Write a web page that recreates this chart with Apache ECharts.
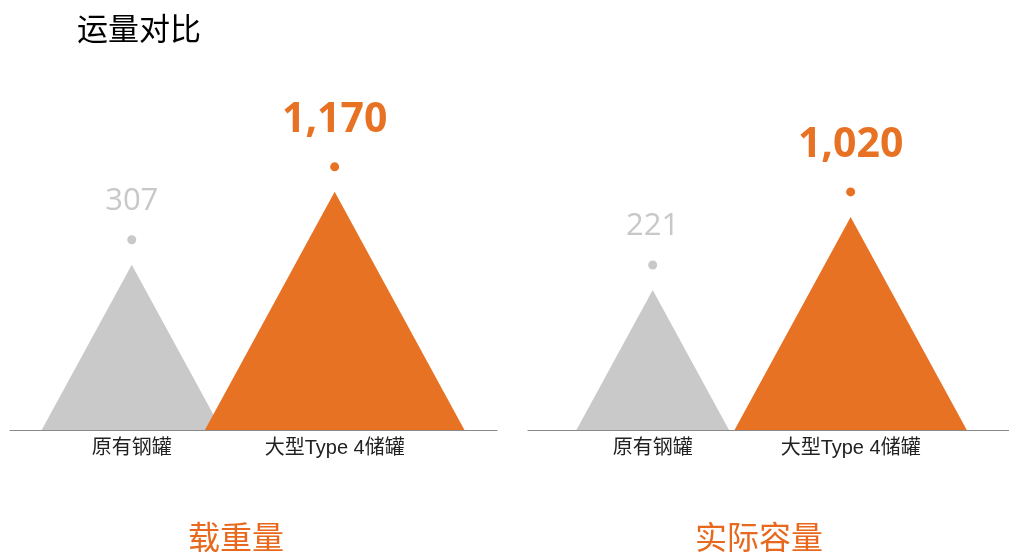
<!DOCTYPE html>
<html>
<head>
<meta charset="utf-8">
<script src="https://cdn.jsdelivr.net/npm/echarts@6/dist/echarts.min.js"></script>
<style>
  html, body { margin: 0; padding: 0; background: #fff; }
  #chart { width: 1009px; height: 552px; }
</style>
</head>
<body>
<div id="chart"></div>
<script>
const categories = ['原有钢罐', '大型Type 4储罐']
const loadValues = [307, 1170]       // 载重量
const capacityValues = [221, 1020]   // 实际容量
const panelTitles = ['载重量', '实际容量']

const fills = ['#C8C9C8', '#E87224']
const labelColors = ['#C8C8C8', '#E87224']

const chart = echarts.init(document.getElementById('chart'))

// triangle from the baseline up to the value, dot and value label above the tip
const renderPeak = (params, api) => {
    const i = api.value(0)
    const val = api.value(1)
    const tip = api.coord([i, val])
    const cs = params.coordSys
    const baseY = cs.y + cs.height
    const half = (baseY - tip[1]) * 0.545
    const big = i === 1
    const dotY = tip[1] - 25
    return {
        type: 'group',
        children: [
            {
                type: 'polygon',
                shape: { points: [[tip[0] - half, baseY], [tip[0], tip[1]], [tip[0] + half, baseY]] },
                style: { fill: fills[i] }
            },
            {
                type: 'circle',
                shape: { cx: tip[0], cy: dotY, r: 4.5 },
                style: { fill: fills[i] }
            },
            {
                type: 'text',
                style: {
                    text: val.toLocaleString('en-US'),
                    x: tip[0],
                    y: dotY - (big ? 47 : 39),
                    align: 'center',
                    verticalAlign: 'middle',
                    fontSize: big ? 41 : 31,
                    fontWeight: big ? 'bold' : 'normal',
                    fontFamily: 'Open Sans',
                    fill: labelColors[i]
                }
            }
        ]
    }
}

const makeX = gridIndex => ({
    gridIndex,
    type: 'value',
    min: -0.6,
    max: 1.8,
    splitLine: { show: false },
    axisTick: { show: false },
    axisLine: { show: true, onZero: false, lineStyle: { color: '#8a8a8a', width: 1.2 } },
    axisLabel: {
        customValues: [0, 1],
        formatter: v => categories[v] || '',
        color: '#222',
        fontSize: 20,
        margin: 8,
        fontFamily: 'Liberation Sans, Noto Sans CJK SC'
    }
})

const makeY = (gridIndex, min, max) => ({
    gridIndex,
    type: 'value',
    min,
    max,
    show: false
})

chart.setOption({
    animation: false,
    title: [
        {
            text: '运量对比',
            left: 72,
            top: 8,
            textStyle: { fontSize: 31, fontWeight: 'normal', color: '#000', fontFamily: 'Noto Sans CJK SC' }
        },
        {
            text: panelTitles[0],
            left: 231,
            top: 516,
            textAlign: 'center',
            textStyle: { fontSize: 32, fontWeight: 'normal', color: '#E8691E', fontFamily: 'Noto Sans CJK SC' }
        },
        {
            text: panelTitles[1],
            left: 754,
            top: 516,
            textAlign: 'center',
            textStyle: { fontSize: 32, fontWeight: 'normal', color: '#E8691E', fontFamily: 'Noto Sans CJK SC' }
        }
    ],
    grid: [
        { left: 10, width: 487, top: 164, height: 266 },
        { left: 528, width: 490, top: 173, height: 257 }
    ],
    xAxis: [
        makeX(0),
        { ...makeX(1), min: -0.63, max: 1.8 }
    ],
    yAxis: [makeY(0, -1650, 1500), makeY(1, -1310, 1500)],
    series: [
        {
            type: 'custom',
            xAxisIndex: 0,
            yAxisIndex: 0,
            clip: false,
            renderItem: renderPeak,
            data: loadValues.map((v, i) => [i, v])
        },
        {
            type: 'custom',
            xAxisIndex: 1,
            yAxisIndex: 1,
            clip: false,
            renderItem: renderPeak,
            data: capacityValues.map((v, i) => [i, v])
        }
    ]
})
</script>
</body>
</html>
